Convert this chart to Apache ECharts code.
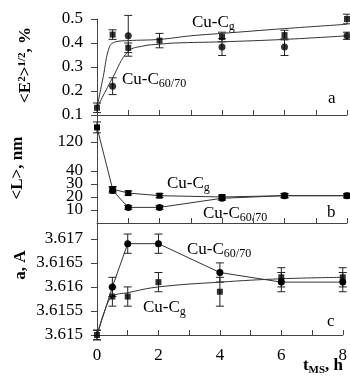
<!DOCTYPE html>
<html><head><meta charset="utf-8">
<script src="https://cdn.jsdelivr.net/npm/echarts@6/dist/echarts.min.js"></script>
<style>html,body{margin:0;padding:0;background:#fff}#c{width:350px;height:376px}</style>
</head><body><div id="c"></div>
<script>
// ---------- DATA ----------
// panel a: <E^2>^(1/2), %
const aCgT   = [0, 0.5, 1, 2, 4, 6, 8];
const aCgV   = [0.13, 0.435, 0.38, 0.41, 0.425, 0.433, 0.5];
const aCgE   = [0.02, 0.02, 0.02, 0.03, 0.02, 0.02, 0.02];
const aC60T  = [0.5, 1, 4, 6, 8];
const aC60V  = [0.22, 0.43, 0.383, 0.383, 0.43];
const aC60E  = [0.035, 0.085, 0.035, 0.035, 0.015];
const aCgFitT  = [0, 0.2, 0.4, 0.6, 1, 2, 3, 4, 6, 8];
const aCgFitV  = [0.13, 0.26, 0.385, 0.405, 0.41, 0.415, 0.43, 0.44, 0.46, 0.478];
const aC60FitT = [0, 0.5, 1, 1.5, 2, 2.5, 4, 6, 8];
const aC60FitV = [0.13, 0.255, 0.365, 0.388, 0.395, 0.4, 0.405, 0.415, 0.43];
const aTicks = [0.1, 0.2, 0.3, 0.4, 0.5];

// panel b: <L>, nm (broken axis above 40)
const bCgT  = [0, 0.5, 1, 2, 4, 6, 8];
const bCgV  = [160, 26, 23, 21, 20, 21, 21];
const bCgE  = [15, 2, 1.5, 1.5, 1.5, 1.5, 1.5];
const bC60T = [0.5, 1, 2, 4, 6, 8];
const bC60V = [25, 12, 12, 19, 21, 21];
const bC60E = [2, 1.5, 1.5, 1.5, 1.5, 1.5];
const bTicks = [0, 10, 20, 30, 40, 120];

// panel c: a, A
const cCgT  = [0, 0.5, 1, 2, 4, 6, 8];
const cCgV  = [3.615, 3.6158, 3.6158, 3.6161, 3.6159, 3.6162, 3.6162];
const cCgE  = [0.0001, 0.0002, 0.0002, 0.0002, 0.0003, 0.0002, 0.0002];
const cC60T = [0, 0.5, 1, 2, 4, 6, 8];
const cC60V = [3.615, 3.616, 3.6169, 3.6169, 3.6163, 3.6161, 3.6161];
const cC60E = [0.0001, 0.0002, 0.0002, 0.0002, 0.0002, 0.0002, 0.0002];
const cCgFitT = [0, 0.25, 0.5, 1, 2, 4, 6, 8];
const cCgFitV = [3.615, 3.6155, 3.6158, 3.61588, 3.616, 3.6161, 3.61617, 3.6162];
const cTicks = ['3.615', '3.6155', '3.616', '3.6165', '3.617'];

const xTicks = [0, 2, 4, 6, 8];

// ---------- helpers ----------
const BREAK = 40, K = 0.279;
const tb = v => v <= BREAK ? v : BREAK + (v - BREAK) * K;
const itb = v => v <= BREAK + 1e-6 ? v : BREAK + (v - BREAK) / K;
const zip = (t, v, f) => t.map((x, i) => [x, f ? f(v[i]) : v[i]]);
const errs = (t, v, e, f) => t.map((x, i) => {
  const g = f || (z => z);
  return [x, g(v[i] - e[i]), g(v[i] + e[i])];
});
const FONT = '"Liberation Serif","DejaVu Serif",serif';
function errRender(params, api) {
  const x = api.value(0), lo = api.value(1), hi = api.value(2);
  const p1 = api.coord([x, lo]), p2 = api.coord([x, hi]);
  const w = 4, st = { stroke: '#222', lineWidth: 1 };
  return { type: 'group', children: [
    { type: 'line', shape: { x1: p1[0], y1: p1[1], x2: p2[0], y2: p2[1] }, style: st },
    { type: 'line', shape: { x1: p1[0] - w, y1: p1[1], x2: p1[0] + w, y2: p1[1] }, style: st },
    { type: 'line', shape: { x1: p2[0] - w, y1: p2[1], x2: p2[0] + w, y2: p2[1] }, style: st }
  ]};
}
const errSeries = (idx, data) => ({ type: 'custom', xAxisIndex: idx, yAxisIndex: idx, renderItem: errRender,
  encode: { x: 0, y: [1, 2] }, data: data, silent: true, z: 1 });
const pts = (idx, data, sym) => ({ type: 'scatter', xAxisIndex: idx, yAxisIndex: idx, data: data,
  symbol: sym, symbolSize: sym === 'rect' ? 6 : 7, itemStyle: { color: '#000' }, silent: true, z: 3 });
const line = (idx, data, smooth, sym) => ({ type: 'line', xAxisIndex: idx, yAxisIndex: idx, data: data,
  smooth: smooth, symbol: sym || 'none', symbolSize: sym === 'rect' ? 6 : 7,
  itemStyle: { color: '#000' }, lineStyle: { color: '#333', width: 1 }, silent: true, z: 2 });

const grids = [
  { left: 97, width: 250, top: 19, height: 96 },
  { left: 97, width: 250, top: 115, height: 108 },
  { left: 97, width: 250, top: 223, height: 112 }
];
const xAxis = [0, 1, 2].map(i => ({
  type: 'value', gridIndex: i, min: 0, max: 8, interval: 1,
  axisLine: { lineStyle: { color: '#444', width: 1 } },
  axisTick: { inside: true, length: 5, lineStyle: { color: '#444' } },
  splitLine: { show: false },
  axisLabel: { show: i === 2, customValues: xTicks, margin: 12, color: '#000', fontFamily: FONT, fontSize: 17 }
}));
const yBase = {
  axisLine: { show: true, lineStyle: { color: '#444', width: 1 } },
  axisTick: { show: true, inside: false, length: 6, lineStyle: { color: '#444' } },
  splitLine: { show: false }
};
const yAxis = [
  Object.assign({}, yBase, { type: 'value', gridIndex: 0, min: 0.1, max: 0.5,
    axisTick: Object.assign({}, yBase.axisTick, { customValues: aTicks }),
    axisLabel: { customValues: aTicks, formatter: v => v.toFixed(1), margin: 14, color: '#000', fontFamily: FONT, fontSize: 17 } }),
  Object.assign({}, yBase, { type: 'value', gridIndex: 1, min: 0, max: 83,
    axisTick: Object.assign({}, yBase.axisTick, { customValues: bTicks.map(tb) }),
    axisLabel: { customValues: bTicks.map(tb), formatter: v => String(Math.round(itb(v))), margin: 14, color: '#000', fontFamily: FONT, fontSize: 17 } }),
  Object.assign({}, yBase, { type: 'value', gridIndex: 2, min: 3.615, max: 3.61733,
    axisTick: Object.assign({}, yBase.axisTick, { customValues: cTicks.map(Number) }),
    axisLabel: { customValues: cTicks.map(Number), formatter: v => cTicks.find(s => Math.abs(Number(s) - v) < 1e-7) || '', margin: 14, color: '#000', fontFamily: FONT, fontSize: 17 } })
];

const c60First = zip(cC60T, cC60V).map((p, i) => i === 0 ? { value: p, symbol: 'none' } : p);

const series = [
  // panel a
  line(0, zip(aCgFitT, aCgFitV), 0.4),
  line(0, zip(aC60FitT, aC60FitV), 0.4),
  errSeries(0, errs(aCgT, aCgV, aCgE)),
  errSeries(0, errs(aC60T, aC60V, aC60E)),
  pts(0, zip(aCgT, aCgV), 'rect'),
  pts(0, zip(aC60T, aC60V), 'circle'),
  // panel b
  line(1, zip(bCgT, bCgV, tb), false, 'rect'),
  line(1, zip(bC60T, bC60V, tb), false, 'circle'),
  errSeries(1, errs(bCgT, bCgV, bCgE, tb)),
  errSeries(1, errs(bC60T, bC60V, bC60E, tb)),
  // panel c
  line(2, zip(cCgFitT, cCgFitV), 0.4),
  line(2, c60First, false, 'circle'),
  errSeries(2, errs(cCgT, cCgV, cCgE)),
  errSeries(2, errs(cC60T, cC60V, cC60E)),
  pts(2, zip(cCgT, cCgV), 'rect')
];

const rich = {
  m: { fontFamily: FONT, fontSize: 17, color: '#000', lineHeight: 20 },
  s: { fontFamily: FONT, fontSize: 12, color: '#000', lineHeight: 20, padding: [8, 0, 0, 0] }
};
const boldRich = {
  m: { fontFamily: FONT, fontSize: 17, fontWeight: 'bold', color: '#000', lineHeight: 20 },
  p: { fontFamily: FONT, fontSize: 11, fontWeight: 'bold', color: '#000', lineHeight: 20, padding: [0, 0, 8, 0] },
  s: { fontFamily: FONT, fontSize: 11, fontWeight: 'bold', color: '#000', lineHeight: 20, padding: [8, 0, 0, 0] }
};
const lbl = (x, y, text) => ({ type: 'text', x: x, y: y, style: { text: text, rich: rich, textVerticalAlign: 'middle', font: '17px ' + FONT } });
const graphic = [
  lbl(192, 23, '{m|Cu-C}{s|g}'),
  lbl(122, 80, '{m|Cu-C}{s|60/70}'),
  lbl(328, 99, '{m|a}'),
  lbl(167, 184, '{m|Cu-C}{s|g}'),
  lbl(203, 214, '{m|Cu-C}{s|60/70}'),
  lbl(327, 213, '{m|b}'),
  lbl(187, 250, '{m|Cu-C}{s|60/70}'),
  lbl(143, 308, '{m|Cu-C}{s|g}'),
  lbl(327, 322, '{m|c}'),
  { type: 'text', x: 26, y: 65, rotation: Math.PI / 2,
    style: { text: '{m|<E}{p|2}{m|>}{p|1/2}{m|, %}', rich: boldRich, textAlign: 'center', textVerticalAlign: 'middle' } },
  { type: 'text', x: 18, y: 168, rotation: Math.PI / 2,
    style: { text: '{m|<L>, nm}', rich: boldRich, textAlign: 'center', textVerticalAlign: 'middle' } },
  { type: 'text', x: 21, y: 265, rotation: Math.PI / 2,
    style: { text: '{m|a, A}', rich: boldRich, textAlign: 'center', textVerticalAlign: 'middle' } },
  { type: 'text', x: 323, y: 366,
    style: { text: '{m|t}{s|MS}{m|, h}', rich: boldRich, textAlign: 'center', textVerticalAlign: 'middle' } }
];

const chart = echarts.init(document.getElementById('c'), null, { renderer: 'canvas' });
chart.setOption({
  animation: false,
  backgroundColor: '#fff',
  grid: grids, xAxis: xAxis, yAxis: yAxis, series: series, graphic: graphic
});
</script></body></html>
